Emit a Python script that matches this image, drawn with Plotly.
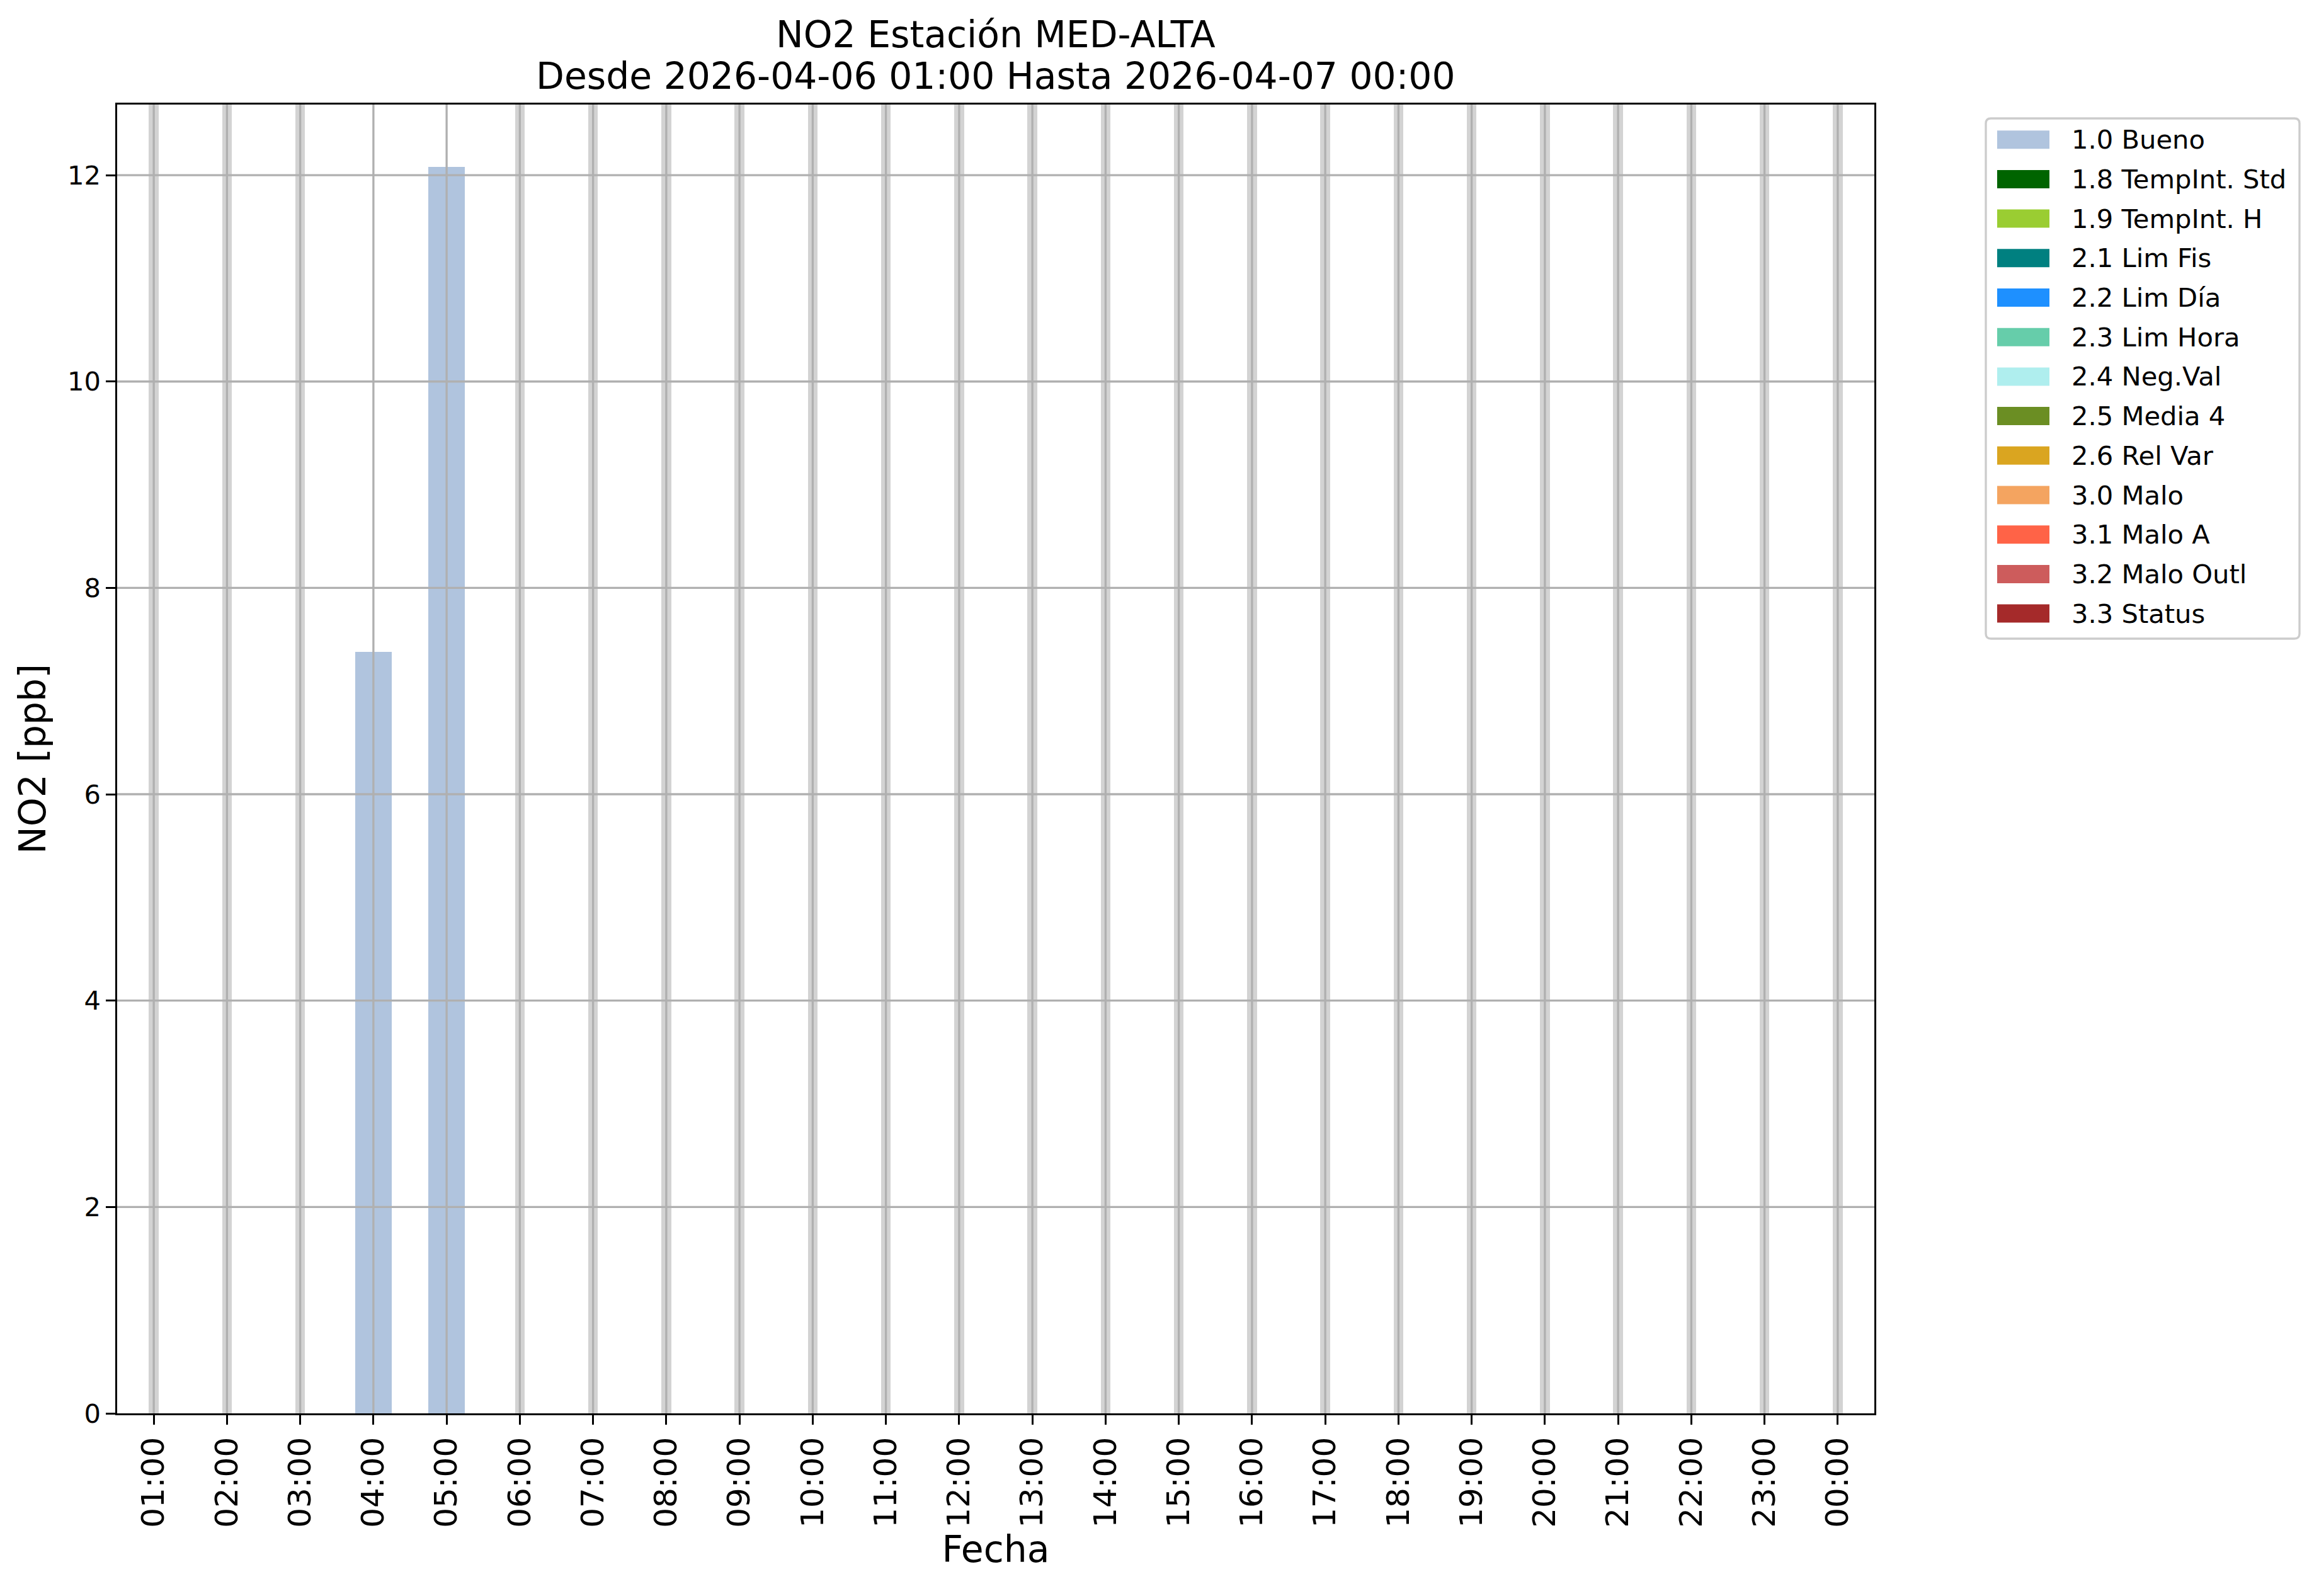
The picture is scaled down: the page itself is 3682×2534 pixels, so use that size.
import plotly.graph_objects as go

# ---------------- data ----------------
hours = ["01:00", "02:00", "03:00", "04:00", "05:00", "06:00", "07:00", "08:00",
         "09:00", "10:00", "11:00", "12:00", "13:00", "14:00", "15:00", "16:00",
         "17:00", "18:00", "19:00", "20:00", "21:00", "22:00", "23:00", "00:00"]
bueno = [None, None, None, 7.38, 12.08, None, None, None, None, None, None, None,
         None, None, None, None, None, None, None, None, None, None, None, None]
categories = ["1.0 Bueno", "1.8 TempInt. Std", "1.9 TempInt. H", "2.1 Lim Fis",
              "2.2 Lim Día", "2.3 Lim Hora", "2.4 Neg.Val", "2.5 Media 4",
              "2.6 Rel Var", "3.0 Malo", "3.1 Malo A", "3.2 Malo Outl", "3.3 Status"]
cat_colors = ["#b0c4de", "#006400", "#9acd32", "#008080", "#1e90ff", "#66cdaa",
              "#afeeee", "#6b8e23", "#daa520", "#f4a460", "#ff6347", "#cd5c5c",
              "#a52a2a"]
y_ticks = [0, 2, 4, 6, 8, 10, 12]
title_1 = "NO2 Estación MED-ALTA"
title_2 = "Desde 2026-04-06 01:00 Hasta 2026-04-07 00:00"

# ---------------- layout geometry ----------------
W, H = 3682, 2534
L, R, T, B = 186, 2976, 166, 2244
FONT = "DejaVu Sans"
PT = 300 / 72.0


def px(x):
    return (x - L) / (R - L)


def py(y):
    return (B - y) / (B - T)


vals = [v for v in bueno if v is not None]
ymax = max(vals) * 1.05

fig = go.Figure()

# missing-hour stripes
missing_y = [ymax if v is None else None for v in bueno]
fig.add_trace(go.Bar(x=hours, y=missing_y, width=0.135, marker_color="#d3d3d3",
                     marker_line_width=0, showlegend=False, hoverinfo="skip"))

# category bars
series = {categories[0]: bueno}
for name, col in zip(categories, cat_colors):
    data = series.get(name, [None] * len(hours))
    fig.add_trace(go.Bar(x=hours, y=data, width=0.5, name=name, marker_color=col,
                         marker_line_width=0, showlegend=False))

shapes = []
grid_col = "#b0b0b0"
gw = 0.8 * PT
for h in hours:
    shapes.append(dict(type="line", xref="x", yref="y domain", x0=h, x1=h, y0=0, y1=1,
                       line=dict(color=grid_col, width=gw), layer="above"))
for t in y_ticks[1:]:
    shapes.append(dict(type="line", xref="x domain", yref="y", x0=0, x1=1, y0=t, y1=t,
                       line=dict(color=grid_col, width=gw), layer="above"))

annotations = []
# titles
annotations.append(dict(text=title_1, xref="paper", yref="paper", x=0.5, y=py(55),
                        xanchor="center", yanchor="middle", showarrow=False,
                        font=dict(family=FONT, size=14 * PT, color="black")))
annotations.append(dict(text=title_2, xref="paper", yref="paper", x=0.5, y=py(121),
                        xanchor="center", yanchor="middle", showarrow=False,
                        font=dict(family=FONT, size=14 * PT, color="black")))

# legend (matplotlib style)
lg_left, lg_top, lg_right, lg_bottom = 3153, 188, 3651, 1014
rr = 8
x0, x1, y0, y1 = px(lg_left), px(lg_right), py(lg_top), py(lg_bottom)
dx, dy = rr / (R - L), rr / (B - T)
path = (f"M {x0+dx},{y0} L {x1-dx},{y0} Q {x1},{y0} {x1},{y0-dy} "
        f"L {x1},{y1+dy} Q {x1},{y1} {x1-dx},{y1} L {x0+dx},{y1} "
        f"Q {x0},{y1} {x0},{y1+dy} L {x0},{y0-dy} Q {x0},{y0} {x0+dx},{y0} Z")
shapes.append(dict(type="path", xref="paper", yref="paper", path=path,
                   fillcolor="rgba(255,255,255,0.8)", line=dict(color="#cccccc", width=0.8 * PT),
                   layer="above"))
for i, (name, col) in enumerate(zip(categories, cat_colors)):
    cy = 221.7 + i * 62.7
    shapes.append(dict(type="rect", xref="paper", yref="paper",
                       x0=px(3171), x1=px(3254), y0=py(cy - 14.5), y1=py(cy + 14.5),
                       fillcolor=col, line=dict(width=0), layer="above"))
    annotations.append(dict(text=name, xref="paper", yref="paper", x=px(3287), y=py(cy),
                            xanchor="left", yanchor="middle", showarrow=False,
                            font=dict(family=FONT, size=10 * PT, color="black")))

fig.update_layout(
    width=W, height=H,
    margin=dict(l=L, r=W - R, t=T, b=H - B, pad=0),
    paper_bgcolor="white", plot_bgcolor="white",
    barmode="overlay", bargap=0,
    showlegend=False,
    font=dict(family=FONT, color="black"),
    shapes=shapes, annotations=annotations,
)
fig.update_xaxes(
    type="category", categoryorder="array", categoryarray=hours,
    range=[-0.5, len(hours) - 0.5],
    showgrid=False, zeroline=False,
    showline=True, mirror=True, linecolor="black", linewidth=0.8 * PT,
    ticks="outside", ticklen=3.5 * PT, tickwidth=0.8 * PT, tickcolor="black",
    tickangle=-90, tickfont=dict(family=FONT, size=12 * PT, color="black"),
    title=dict(text="Fecha", font=dict(family=FONT, size=14 * PT, color="black"), standoff=8),
)
fig.update_yaxes(
    range=[0, ymax], tickmode="array", tickvals=y_ticks,
    ticktext=[str(t) for t in y_ticks],
    showgrid=False, zeroline=False,
    showline=True, mirror=True, linecolor="black", linewidth=0.8 * PT,
    ticks="outside", ticklen=3.5 * PT, tickwidth=0.8 * PT, tickcolor="black",
    tickfont=dict(family=FONT, size=10 * PT, color="black"),
    title=dict(text="NO2 [ppb]", font=dict(family=FONT, size=14 * PT, color="black"), standoff=16),
)

fig.write_html("out.html", config={"displayModeBar": False},
               post_script="document.body.style.margin='0';document.body.style.overflow='hidden';")
